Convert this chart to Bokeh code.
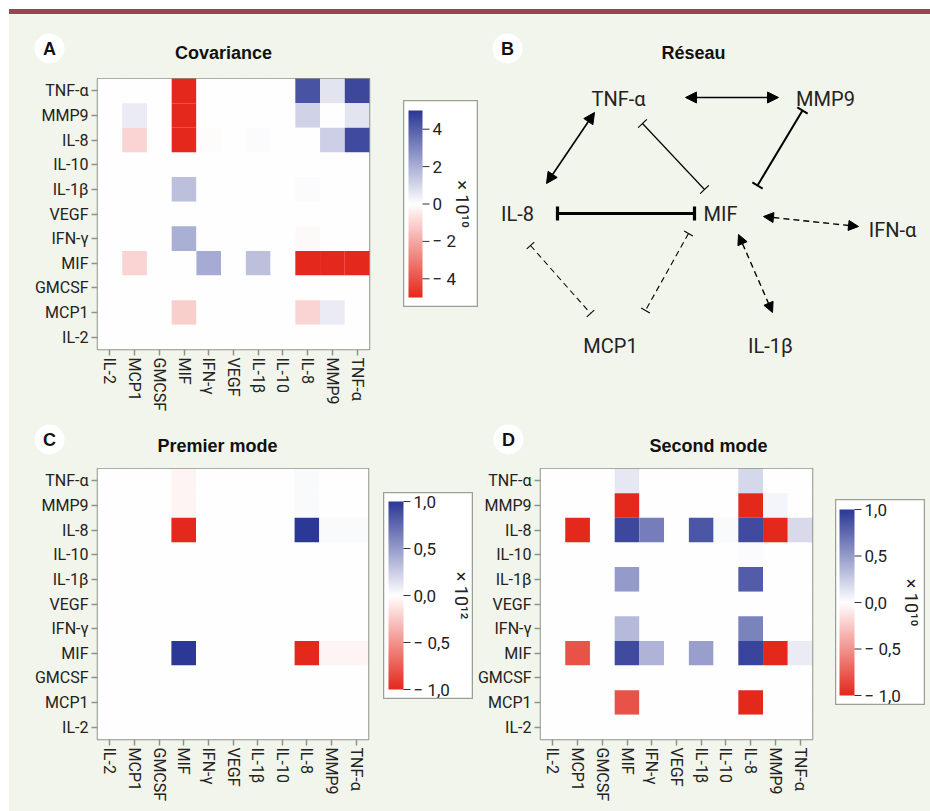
import numpy as np
from bokeh.plotting import figure
from bokeh.models import (FactorRange, Range1d, LinearColorMapper, ColumnDataSource,
                          Arrow, NormalHead, TeeHead, Spacer, Div)
from bokeh.layouts import row, column
from bokeh.core.properties import value
from bokeh.embed import file_html
from bokeh.resources import INLINE

# ---------------- data ----------------
CYTOKINES = ["IL-2", "MCP1", "GMCSF", "MIF", "IFN-γ", "VEGF", "IL-1β", "IL-10", "IL-8", "MMP9", "TNF-α"]
ROWS_TOP_DOWN = CYTOKINES[::-1]

# rows listed top -> bottom (TNF-α first); columns in CYTOKINES order
# cols:   IL-2 MCP1 GMCSF  MIF  IFN-γ VEGF IL-1β IL-10  IL-8  MMP9 TNF-α
COVARIANCE = [  # x 10^10
    [0,    0,   0,  -5.0,  0,    0,   0,    0,    4.3,  0.7,  4.6],   # TNF-α
    [0,    0.5, 0,  -5.0,  0,    0,   0,    0,    1.1,  0.0,  0.7],   # MMP9
    [0,   -1.0, 0,  -5.0, -0.1,  0,   0.1,  0,    0.0,  1.2,  4.5],   # IL-8
    [0,    0,   0,   0,    0,    0,   0,    0,    0,    0,    0],     # IL-10
    [0,    0,   0,   1.6,  0,    0,   0,    0,    0.1,  0,    0],     # IL-1β
    [0,    0,   0,   0,    0,    0,   0,    0,    0,    0,    0],     # VEGF
    [0,    0,   0,   2.0,  0,    0,   0,    0,   -0.15, 0,    0],     # IFN-γ
    [0,   -1.0, 0,   0.0,  2.1,  0,   1.6,  0,   -5.0, -5.0, -5.0],   # MIF
    [0,    0,   0,   0,    0,    0,   0,    0,    0,    0,    0],     # GMCSF
    [0,    0,   0,  -1.1,  0,    0,   0,    0,   -1.0,  0.5,  0],     # MCP1
    [0,    0,   0,   0,    0,    0,   0,    0,    0,    0,    0],     # IL-2
]
FIRST_MODE = [  # x 10^12
    [0, 0, 0, -0.05, 0, 0, 0, 0,  0.03, 0,     0],      # TNF-α
    [0, 0, 0, -0.05, 0, 0, 0, 0,  0.03, 0,     0],      # MMP9
    [0, 0, 0, -1.0,  0, 0, 0, 0,  1.0,  0.03,  0.03],   # IL-8
    [0, 0, 0,  0,    0, 0, 0, 0,  0,    0,     0],      # IL-10
    [0, 0, 0,  0,    0, 0, 0, 0,  0,    0,     0],      # IL-1β
    [0, 0, 0,  0,    0, 0, 0, 0,  0,    0,     0],      # VEGF
    [0, 0, 0,  0,    0, 0, 0, 0,  0,    0,     0],      # IFN-γ
    [0, 0, 0,  1.0,  0, 0, 0, 0, -1.0, -0.05, -0.05],   # MIF
    [0, 0, 0,  0,    0, 0, 0, 0,  0,    0,     0],      # GMCSF
    [0, 0, 0,  0,    0, 0, 0, 0,  0,    0,     0],      # MCP1
    [0, 0, 0,  0,    0, 0, 0, 0,  0,    0,     0],      # IL-2
]
SECOND_MODE = [  # x 10^10
    [0,  0,    0,  0.12, 0,    0,  0,    0,     0.20,  0,     0],      # TNF-α
    [0,  0,    0, -1.0,  0,    0,  0,    0,    -1.0,   0.05,  0],      # MMP9
    [0, -1.0,  0,  0.92, 0.65, 0,  0.85, 0.03,  0.90, -1.0,   0.18],   # IL-8
    [0,  0,    0,  0,    0,    0,  0,    0,     0.02,  0,     0],      # IL-10
    [0,  0,    0,  0.50, 0,    0,  0,    0,     0.82,  0,     0],      # IL-1β
    [0,  0,    0,  0,    0,    0,  0,    0,     0,     0,     0],      # VEGF
    [0,  0,    0,  0.35, 0,    0,  0,    0,     0.62,  0,     0],      # IFN-γ
    [0, -0.8,  0,  0.90, 0.38, 0,  0.48, 0,     0.93, -1.0,   0.10],   # MIF
    [0,  0,    0,  0,    0,    0,  0,    0,     0,     0,     0],      # GMCSF
    [0,  0,    0, -0.8,  0,    0,  0,    0,    -1.0,   0,     0],      # MCP1
    [0,  0,    0,  0,    0,    0,  0,    0,     0,     0,     0],      # IL-2
]

CB_A_TICKS = [-4, -2, 0, 2, 4]
CB_A_LABELS = ["− 4", "− 2", "0", "2", "4"]
CB_M_TICKS = [-1.0, -0.5, 0.0, 0.5, 1.0]
CB_M_LABELS = ["− 1,0", "− 0,5", "0,0", "0,5", "1,0"]

NODES = ["TNF-α", "MMP9", "IL-8", "MIF", "IFN-α", "MCP1", "IL-1β"]
EDGES = [  # (from, to, kind)
    ("TNF-α", "MMP9", "activation"),
    ("IL-8", "TNF-α", "activation"),
    ("TNF-α", "MIF", "inhibition"),
    ("MMP9", "MIF", "inhibition"),
    ("IL-8", "MIF", "inhibition"),
    ("MIF", "IFN-α", "weak activation"),
    ("MIF", "IL-1β", "weak activation"),
    ("IL-8", "MCP1", "weak inhibition"),
    ("MIF", "MCP1", "weak inhibition"),
]

# ---------------- layout / style ----------------
BG = "#f2f5eb"
MAROON = "#9a4452"
FRAME = "#8d9489"
TXT = "#222222"
LFONT = "Roboto"
TFONT = "Liberation Sans"

NODE_POS = {"TNF-α": (140, 84), "MMP9": (347, 84), "IL-8": (39, 199), "MIF": (242, 199),
            "IFN-α": (414, 215), "MCP1": (132, 331), "IL-1β": (292, 331)}
EDGE_ENDS = [((207, 83), (300, 83)), ((68, 169), (116, 98)), ((164, 109), (226, 175)),
             ((324, 96), (279, 171)), ((79, 199), (216, 199)), ((285, 202), (380, 212)),
             ((260, 220), (294, 298)), ((52, 231), (112, 299)), ((210, 219), (167, 296))]
EDGE_WIDTH = [1.6, 1.6, 1.2, 2.0, 3.2, 1.4, 1.4, 1.1, 1.1]


def make_palette(n=256):
    red = np.array([0xe4, 0x28, 0x1c], float)
    white = np.array([255, 255, 255], float)
    blue = np.array([0x2c, 0x38, 0x95], float)
    out = []
    for t in np.linspace(0, 1, n):
        if t < 0.5:
            c = red + (white - red) * (t / 0.5)
        else:
            c = white + (blue - white) * ((t - 0.5) / 0.5)
        out.append("#%02x%02x%02x" % tuple(int(round(v)) for v in c))
    return out


PALETTE = make_palette()


def blank(w, h, fill=BG):
    p = figure(width=w, height=h, x_range=Range1d(0, w), y_range=Range1d(h, 0),
               x_axis_location=None, y_axis_location=None, min_border=0,
               toolbar_location=None, output_backend="svg",
               border_fill_color=fill, background_fill_color=fill, outline_line_color=None)
    p.grid.visible = False
    return p


def badge(p, x, y, letter):
    p.scatter([x], [y], size=30, marker="circle", fill_color="white", line_color=None)
    p.text([x], [y], text=[letter], text_align="center", text_baseline="middle",
           text_font=value(TFONT), text_font_style="bold", text_font_size="18px", text_color="#111")


def title_text(p, x, y, title):
    p.text([x], [y], text=[title], text_align="center", text_baseline="middle",
           text_font=value(TFONT), text_font_style="bold", text_font_size="18px", text_color="#111")


def header(w, h, letter, lpos, title, tpos):
    p = blank(w, h)
    badge(p, lpos[0], lpos[1], letter)
    title_text(p, tpos[0], tpos[1], title)
    return p


def heatmap(matrix, lo, hi, fw, fh, left, right, bottom):
    xs, ys, vs = [], [], []
    for i, rname in enumerate(ROWS_TOP_DOWN):
        for j, cname in enumerate(CYTOKINES):
            xs.append(cname)
            ys.append(rname)
            vs.append(matrix[i][j])
    src = ColumnDataSource(dict(x=xs, y=ys, v=vs))
    mapper = LinearColorMapper(palette=PALETTE, low=lo, high=hi)
    p = figure(x_range=FactorRange(*CYTOKINES), y_range=FactorRange(*CYTOKINES),
               frame_width=fw, frame_height=fh, min_border_left=left, min_border_right=right,
               min_border_top=0, min_border_bottom=bottom, toolbar_location=None,
               output_backend="svg", background_fill_color="white", border_fill_color=BG)
    p.rect("x", "y", 1, 1, source=src, fill_color={"field": "v", "transform": mapper},
           line_color=None)
    p.grid.visible = False
    p.outline_line_color = FRAME
    p.outline_line_width = 1.5
    for ax in (p.xaxis[0], p.yaxis[0]):
        ax.axis_line_color = None
        ax.major_tick_line_color = FRAME
        ax.major_tick_line_width = 1.5
        ax.major_tick_out = 6
        ax.major_tick_in = 0
        ax.major_label_text_font = LFONT
        ax.major_label_text_font_size = "16px"
        ax.major_label_text_color = TXT
        ax.major_label_standoff = 3
    p.xaxis.major_label_standoff = 2
    p.xaxis.major_label_orientation = "vertical"
    return p


def colorbar(lo, hi, ticks, labels, exponent, w, h, gx, gw, gtop, gbot, lab_x):
    """White boxed colour scale; the value axis maps lo..hi onto the gradient rows."""
    gh = h - gtop - gbot
    upp = (hi - lo) / gh
    mapper = LinearColorMapper(palette=PALETTE, low=lo, high=hi)
    p = figure(width=w, height=h, x_range=Range1d(0, w),
               y_range=Range1d(lo - gbot * upp, hi + gtop * upp),
               x_axis_location=None, y_axis_location=None, min_border=0,
               toolbar_location=None, output_backend="svg",
               background_fill_color="white", border_fill_color="white",
               outline_line_color="#9aa096", outline_line_width=1.5)
    p.grid.visible = False
    p.image(image=[np.linspace(lo, hi, 256).reshape(-1, 1)], x=gx, y=lo, dw=gw, dh=hi - lo,
            color_mapper=mapper)
    x_tick = gx + gw
    p.segment(x0=[x_tick] * len(ticks), x1=[x_tick + 7] * len(ticks), y0=ticks, y1=ticks,
              line_color="#333333", line_width=1)
    p.text([x_tick + 10] * len(ticks), ticks, text=labels, text_align="left",
           text_baseline="middle", text_font=value(LFONT), text_font_size="17px",
           text_color=TXT)
    p.text([lab_x], [(lo + hi) / 2], text=["× 10" + exponent], angle=-np.pi / 2,
           text_align="center", text_baseline="middle",
           text_font=value(LFONT), text_font_size="18px", text_color=TXT)
    return p


def network(w, h):
    p = blank(w, h)
    badge(p, 29, 34, "B")
    title_text(p, 215, 38, "Réseau")
    for (a, b, kind), ((x0, y0), (x1, y1)), lw in zip(EDGES, EDGE_ENDS, EDGE_WIDTH):
        dash = "dashed" if kind.startswith("weak") else "solid"
        if kind.endswith("activation"):
            sz = 11 if dash == "solid" else 10
            s = NormalHead(size=sz, fill_color="black", line_color="black", line_width=1)
            e = NormalHead(size=sz, fill_color="black", line_color="black", line_width=1)
        else:
            sz = 14 if lw > 3 else (12 if dash == "solid" else 10)
            s = TeeHead(size=sz, line_color="black", line_width=lw)
            e = TeeHead(size=sz, line_color="black", line_width=lw)
        p.add_layout(Arrow(x_start=x0, y_start=y0, x_end=x1, y_end=y1, start=s, end=e,
                           line_color="black", line_width=lw,
                           line_dash="6 4" if dash == "dashed" else "solid"))
    xs = [NODE_POS[n][0] for n in NODES]
    ys = [NODE_POS[n][1] for n in NODES]
    p.text(xs, ys, text=NODES, text_align="center", text_baseline="middle",
           text_font=value(LFONT), text_font_size="20px", text_color=TXT)
    return p


# ---------------- assemble ----------------
top_line = Div(width=921, height=5, margin=0, styles={"background-color": MAROON})

hA = header(394, 64, "A", (40, 34), "Covariance", (214, 38))
pA = heatmap(COVARIANCE, -5, 5, 272, 271, 88, 34, 63)
cbA = colorbar(-5, 5, CB_A_TICKS, CB_A_LABELS, "¹⁰", 75, 207, 5, 14, 10, 10, 59)
pB = network(452, 398)

hC = header(374, 54, "C", (40, 25), "Premier mode", (208, 31))
pC = heatmap(FIRST_MODE, -1, 1, 271, 271, 88, 15, 74)
cbC = colorbar(-1, 1, CB_M_TICKS, CB_M_LABELS, "¹²", 90, 207, 5, 15, 9, 10, 78)

hD = header(362, 54, "D", (35, 25), "Second mode", (235, 31))
pD = heatmap(SECOND_MODE, -1, 1, 272, 271, 67, 23, 74)
cbD = colorbar(-1, 1, CB_M_TICKS, CB_M_LABELS, "¹⁰", 90, 206, 4, 15, 10, 10, 76)

row1 = row(column(column(hA), column(pA)),
           column(Spacer(width=75, height=86), cbA),
           column(pB))
row2 = row(column(column(hC), column(pC)),
           column(Spacer(width=90, height=78), cbC),
           column(column(hD), column(pD)),
           column(Spacer(width=90, height=85), cbD))
layout = column(top_line, row1, row2, margin=(9, 0, 0, 9), styles={"background-color": BG})

open("out.html", "w").write(file_html(layout, INLINE))
